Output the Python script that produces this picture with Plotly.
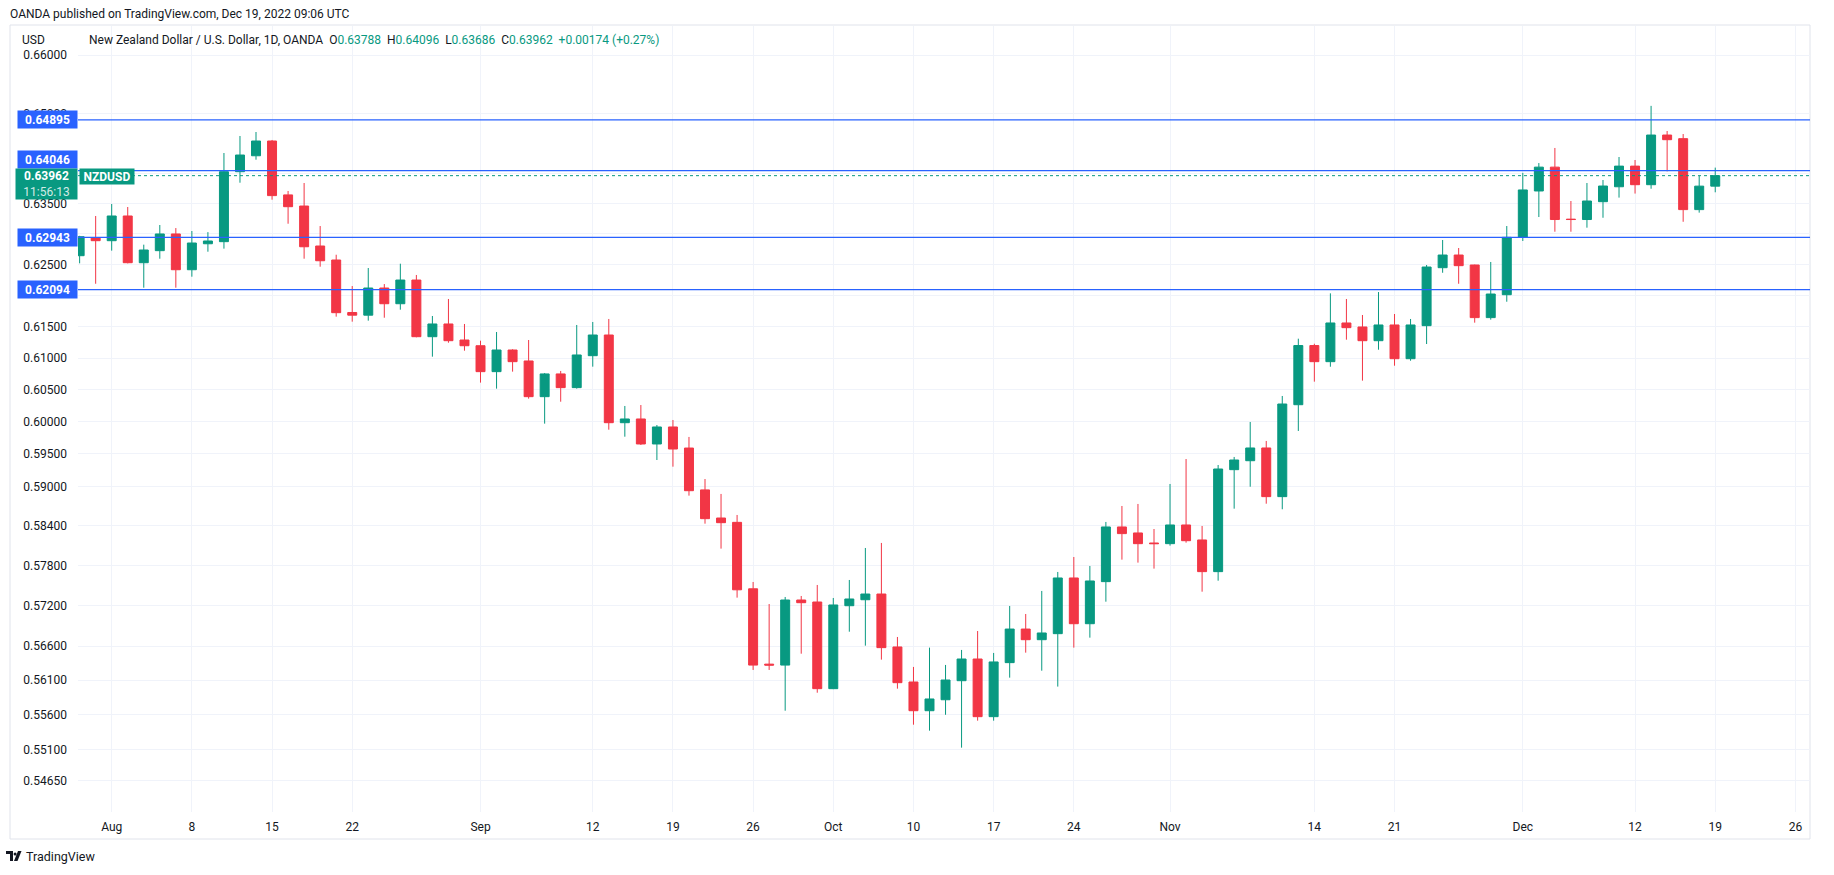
import numpy as np
import pandas as pd
import plotly.graph_objects as go

# ---------------- data ----------------
dates = pd.bdate_range("2022-07-28", "2022-12-19")

open_ = [
    0.62645, 0.62939,
    0.62890, 0.63295, 0.62531, 0.62727, 0.63000,
    0.62417, 0.62840, 0.62874, 0.64028, 0.64294,
    0.64541, 0.63643, 0.63459, 0.62803, 0.62575,
    0.61727, 0.61684, 0.62121, 0.61868, 0.62250,
    0.61340, 0.61543, 0.61287, 0.61196, 0.60785,
    0.61128, 0.60954, 0.60391, 0.60749, 0.60533,
    0.61038, 0.61367, 0.59984, 0.60042, 0.59653,
    0.59917, 0.59590, 0.58945, 0.58516, 0.58450,
    0.57449, 0.56335, 0.56321, 0.57282, 0.57252,
    0.55977, 0.57197, 0.57286, 0.57371, 0.56587,
    0.56074, 0.55657, 0.55816, 0.56093, 0.56410,
    0.55571, 0.56357, 0.56851, 0.56694, 0.56783,
    0.57611, 0.56930, 0.57556, 0.58380, 0.58289,
    0.58137, 0.58127, 0.58410, 0.58183, 0.57706,
    0.59256, 0.59394, 0.59591, 0.58842, 0.60265,
    0.61199, 0.60943, 0.61559, 0.61495, 0.61276,
    0.61527, 0.60990, 0.61516, 0.62450, 0.62656,
    0.62494, 0.61645, 0.62013, 0.62945, 0.63708,
    0.64104, 0.63243, 0.63237, 0.63531, 0.63778,
    0.64121, 0.63812, 0.64641, 0.64580, 0.63400,
    0.63788,
]
high = [
    0.62970, 0.63295,
    0.63493, 0.63443, 0.62825, 0.63147, 0.63097,
    0.63048, 0.63030, 0.64340, 0.64625, 0.64692,
    0.64558, 0.63708, 0.63840, 0.63130, 0.62661,
    0.62153, 0.62445, 0.62185, 0.62515, 0.62332,
    0.61671, 0.61944, 0.61543, 0.61276, 0.61415,
    0.61140, 0.61287, 0.60764, 0.60796, 0.61527,
    0.61575, 0.61623, 0.60245, 0.60260, 0.59948,
    0.60026, 0.59762, 0.59112, 0.58883, 0.58562,
    0.57551, 0.57222, 0.57327, 0.57342, 0.57506,
    0.57312, 0.57581, 0.58062, 0.58138, 0.56734,
    0.56294, 0.56577, 0.56323, 0.56543, 0.56822,
    0.56499, 0.57193, 0.57074, 0.57417, 0.57701,
    0.57926, 0.57791, 0.58456, 0.58699, 0.58730,
    0.58349, 0.59036, 0.59420, 0.58395, 0.59328,
    0.59452, 0.59995, 0.59700, 0.60402, 0.61308,
    0.61228, 0.62035, 0.61944, 0.61687, 0.62056,
    0.61703, 0.61623, 0.62494, 0.62901, 0.62770,
    0.62500, 0.62543, 0.63130, 0.64009, 0.64172,
    0.64424, 0.63542, 0.63840, 0.63890, 0.64273,
    0.64223, 0.65133, 0.64709, 0.64658, 0.63956,
    0.64096,
]
low = [
    0.62521, 0.62190,
    0.62727, 0.62520, 0.62126, 0.62596, 0.62126,
    0.62304, 0.62710, 0.62760, 0.63845, 0.64228,
    0.63564, 0.63168, 0.62596, 0.62466, 0.61660,
    0.61580, 0.61596, 0.61643, 0.61772, 0.61330,
    0.61022, 0.61244, 0.61117, 0.60612, 0.60517,
    0.60785, 0.60360, 0.59969, 0.60312, 0.60517,
    0.60864, 0.59875, 0.59766, 0.59637, 0.59405,
    0.59302, 0.58857, 0.58430, 0.58052, 0.57317,
    0.56250, 0.56250, 0.55657, 0.56488, 0.55918,
    0.55970, 0.56812, 0.56606, 0.56401, 0.55977,
    0.55455, 0.55369, 0.55598, 0.55125, 0.55513,
    0.55513, 0.56137, 0.56503, 0.56239, 0.56007,
    0.56577, 0.56724, 0.57257, 0.57886, 0.57841,
    0.57751, 0.58097, 0.58142, 0.57406, 0.57570,
    0.58658, 0.58994, 0.58734, 0.58649, 0.59855,
    0.60627, 0.60863, 0.61292, 0.60643, 0.61133,
    0.60879, 0.60958, 0.61223, 0.62368, 0.62190,
    0.61564, 0.61612, 0.61900, 0.62885, 0.63278,
    0.63037, 0.63037, 0.63103, 0.63266, 0.63598,
    0.63665, 0.63745, 0.64033, 0.63200, 0.63350,
    0.63686,
]
close = [
    0.62955, 0.62890,
    0.63295, 0.62531, 0.62738, 0.63000, 0.62417,
    0.62852, 0.62885, 0.64028, 0.64306, 0.64541,
    0.63631, 0.63448, 0.62791, 0.62563, 0.61724,
    0.61684, 0.62121, 0.61868, 0.62250, 0.61340,
    0.61543, 0.61276, 0.61196, 0.60785, 0.61128,
    0.60943, 0.60391, 0.60749, 0.60533, 0.61049,
    0.61367, 0.59984, 0.60042, 0.59653, 0.59917,
    0.59575, 0.58933, 0.58506, 0.58445, 0.57434,
    0.56321, 0.56321, 0.57282, 0.57242, 0.55977,
    0.57208, 0.57297, 0.57371, 0.56577, 0.56064,
    0.55657, 0.55827, 0.56103, 0.56410, 0.55571,
    0.56367, 0.56851, 0.56694, 0.56793, 0.57611,
    0.56930, 0.57566, 0.58380, 0.58279, 0.58127,
    0.58127, 0.58410, 0.58172, 0.57706, 0.59266,
    0.59405, 0.59591, 0.58842, 0.60276, 0.61199,
    0.60943, 0.61559, 0.61484, 0.61276, 0.61527,
    0.60990, 0.61527, 0.62461, 0.62656, 0.62483,
    0.61645, 0.62024, 0.62945, 0.63725, 0.64104,
    0.63237, 0.63237, 0.63542, 0.63790, 0.64121,
    0.63812, 0.64641, 0.64563, 0.63400, 0.63788,
    0.63962,
]
assert len(open_) == len(high) == len(low) == len(close) == len(dates)

levels = [0.64895, 0.64046, 0.62943, 0.62094]
level_label_shift = [0, 11, 0, 0]

ytick_vals = [0.66, 0.65, 0.64, 0.635, 0.63, 0.625, 0.62, 0.615, 0.61, 0.605,
              0.60, 0.595, 0.59, 0.584, 0.578, 0.572, 0.566, 0.561, 0.556, 0.551, 0.5465]
# labels hidden behind the level boxes on the price scale are left blank
ytick_hidden = [0.64, 0.63, 0.62]
ytick_text = ["" if v in ytick_hidden else f"{v:.5f}" for v in ytick_vals]

xtick_dates = ["2022-08-01", "2022-08-08", "2022-08-15", "2022-08-22", "2022-09-01",
               "2022-09-12", "2022-09-19", "2022-09-26", "2022-10-03", "2022-10-10",
               "2022-10-17", "2022-10-24", "2022-11-01", "2022-11-14", "2022-11-21",
               "2022-12-01", "2022-12-12", "2022-12-19", "2022-12-26"]
xtick_text = ["Aug", "8", "15", "22", "Sep", "12", "19", "26", "Oct", "10", "17", "24",
              "Nov", "14", "21", "Dec", "12", "19", "26"]

# ---------------- styling ----------------
W, H = 1834, 875
L, R, T, B = 78, 24, 26, 63
PW, PH = W - L - R, H - T - B
FONT = "Roboto, Arial, sans-serif"
TXT = "#131722"
GREEN = "#089981"
RED = "#f23645"
BLUE = "#2962ff"
GRID = "#f0f3fa"


def xp(px):
    return (px - L) / PW


def yp(py):
    return (T + PH - py) / PH


fig = go.Figure()
fig.add_trace(go.Candlestick(
    x=dates, open=open_, high=high, low=low, close=close,
    increasing=dict(line=dict(color=GREEN, width=1), fillcolor=GREEN),
    decreasing=dict(line=dict(color=RED, width=1), fillcolor=RED),
    whiskerwidth=0, showlegend=False, hoverinfo="skip",
))

# level lines
for lvl in levels:
    fig.add_shape(type="line", xref="paper", x0=0, x1=1, yref="y", y0=lvl, y1=lvl,
                  line=dict(color=BLUE, width=1.3), layer="above")
last_close = close[-1]
fig.add_shape(type="line", xref="paper", x0=0, x1=1, yref="y", y0=last_close, y1=last_close,
              line=dict(color=GREEN, width=1, dash="dot"), layer="above")

# chart frame
fig.add_shape(type="rect", xref="paper", yref="paper", x0=xp(10), x1=xp(1810), y0=yp(839), y1=yp(25),
              line=dict(color="#e0e3eb", width=1), fillcolor="rgba(0,0,0,0)", layer="below")

# level labels on the price scale
for lvl, sh in zip(levels, level_label_shift):
    fig.add_annotation(x=0, xref="paper", xanchor="right", y=np.log10(lvl), yref="y",
                       yanchor="middle", yshift=sh, text=f"<b>{lvl:.5f}</b>", showarrow=False,
                       bgcolor=BLUE, font=dict(color="white", size=12, family=FONT),
                       width=55, height=13, borderpad=2, align="center")

# current price label
fig.add_annotation(x=0, xref="paper", xanchor="right", y=np.log10(last_close), yref="y",
                   yanchor="top", yshift=7.5,
                   text=f"<b>{last_close:.5f}</b><br><span style='color:rgba(255,255,255,0.82)'>11:56:13</span>",
                   showarrow=False, bgcolor=GREEN, font=dict(color="white", size=12, family=FONT),
                   width=59, height=28, borderpad=1, align="center")
fig.add_annotation(x=0, xref="paper", xanchor="left", xshift=1, y=np.log10(last_close), yref="y",
                   yanchor="middle", yshift=-1, text="<b>NZDUSD</b>", showarrow=False,
                   bgcolor=GREEN, font=dict(color="white", size=12, family=FONT),
                   width=50, height=11, borderpad=2, align="center")

# header texts
fig.add_annotation(x=xp(8), y=yp(14), xref="paper", yref="paper", xanchor="left", yanchor="middle",
                   text="OANDA published on TradingView.com, Dec 19, 2022 09:06 UTC", showarrow=False,
                   font=dict(color=TXT, size=12, family=FONT))
fig.add_annotation(x=xp(20), y=yp(40), xref="paper", yref="paper", xanchor="left", yanchor="middle",
                   text="USD", showarrow=False, font=dict(color=TXT, size=12, family=FONT))

chg = close[-1] - close[-2]
pct = chg / close[-2] * 100
sp = "\u00a0\u00a0"
g = lambda s: f"<span style='color:{GREEN}'>{s}</span>"
legend_txt = ("New Zealand Dollar / U.S. Dollar, 1D, OANDA" + sp +
              "O" + g(f"{open_[-1]:.5f}") + sp + "H" + g(f"{high[-1]:.5f}") + sp +
              "L" + g(f"{low[-1]:.5f}") + sp + "C" + g(f"{close[-1]:.5f}") + sp +
              g(f"{chg:+.5f} ({pct:+.2f}%)"))
fig.add_annotation(x=xp(87), y=yp(40), xref="paper", yref="paper", xanchor="left", yanchor="middle",
                   text=legend_txt, showarrow=False, font=dict(color=TXT, size=12, family=FONT))

# footer logo + text
logo_paths = [
    f"M {xp(6)} {yp(851)} L {xp(13)} {yp(851)} L {xp(13)} {yp(861)} L {xp(10)} {yp(861)} L {xp(10)} {yp(854)} L {xp(6)} {yp(854)} Z",
    f"M {xp(18)} {yp(851)} L {xp(21.5)} {yp(851)} L {xp(17.5)} {yp(861)} L {xp(14)} {yp(861)} Z",
]
for pth in logo_paths:
    fig.add_shape(type="path", path=pth, xref="paper", yref="paper", fillcolor=TXT,
                  line=dict(width=0), layer="above")
fig.add_shape(type="circle", xref="paper", yref="paper", x0=xp(13.6), x1=xp(16.6), y0=yp(855.5),
              y1=yp(852.5), fillcolor=TXT, line=dict(width=0))
fig.add_annotation(x=xp(24), y=yp(856), xref="paper", yref="paper", xanchor="left", yanchor="middle",
                   text="TradingView", showarrow=False, font=dict(color=TXT, size=12.5, family=FONT))

fig.update_layout(
    width=W, height=H, margin=dict(l=L, r=R, t=T, b=B, pad=0),
    paper_bgcolor="white", plot_bgcolor="white",
    boxgap=0.2, showlegend=False, hovermode=False,
    font=dict(family=FONT, color=TXT, size=12),
    xaxis=dict(
        type="date", range=["2022-07-27 21:34", "2022-12-26 21:50"],
        rangebreaks=[dict(bounds=["sat", "mon"])],
        rangeslider=dict(visible=False),
        tickmode="array", tickvals=xtick_dates, ticktext=xtick_text,
        showgrid=True, gridcolor=GRID, gridwidth=1, zeroline=False, showline=False,
        ticks="", tickfont=dict(size=12, color=TXT, family=FONT), ticklabelstandoff=6,
        automargin=False,
    ),
    yaxis=dict(
        type="log", side="left", range=[-0.265915, -0.177182],
        tickmode="array", tickvals=ytick_vals, ticktext=ytick_text,
        showgrid=True, gridcolor=GRID, gridwidth=1, zeroline=False, showline=False,
        ticks="", tickfont=dict(size=12, color=TXT, family=FONT), ticklabelstandoff=10,
        automargin=False,
    ),
)

fig.write_html(
    "out.html",
    config={"displayModeBar": False},
    post_script="document.body.style.margin='0';document.body.style.overflow='hidden';",
)
